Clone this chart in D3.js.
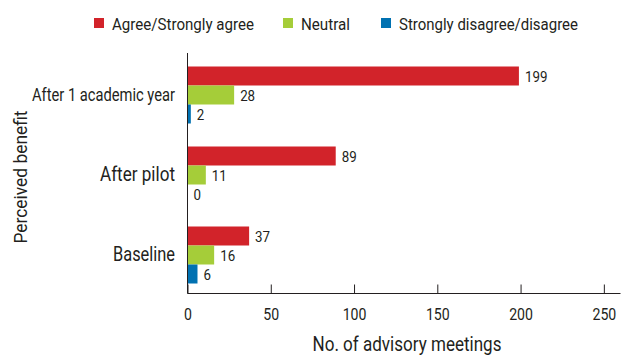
<!DOCTYPE html>
<html>
<head>
<meta charset="utf-8">
<script src="https://cdn.jsdelivr.net/npm/d3@7"></script>
<style>
  body { margin: 0; background: #fff; }
  svg text { font-family: Roboto, "Noto Sans", sans-serif; fill: #231f20; }
</style>
</head>
<body>
<div id="root"></div>
<script>
// data
const categories = ["After 1 academic year", "After pilot", "Baseline"]
const series = ["Agree/Strongly agree", "Neutral", "Strongly disagree/disagree"]
const agree = [199, 89, 37]
const neutral = [28, 11, 16]
const disagree = [2, 0, 6]
const xTicks = [0, 50, 100, 150, 200, 250]
const colors = ["#d2232a", "#a5cd39", "#0071b1"]

const w = 622, h = 355
const values = [agree, neutral, disagree]
const rows = categories.map((c, i) => ({cat: c, vals: series.map((s, j) => ({s: s, v: values[j][i], j: j}))}))

// squeeze text horizontally, the original uses a narrow face
function fitWidth(sel, width) {
    sel.attr("textLength", width).attr("lengthAdjust", "spacingAndGlyphs")
}
function condense(sel, k) {
    sel.each(function () {
        const len = this.getComputedTextLength()
        d3.select(this).attr("textLength", len * k).attr("lengthAdjust", "spacingAndGlyphs")
    })
}

const svg = d3.select("#root").append("svg")
    .attr("width", w)
    .attr("height", h)

//scales
const x = d3.scaleLinear()
    .domain([0, 260])
    .range([187.5, 620.5])

const y = d3.scaleBand()
    .domain(categories)
    .range([55, 295])
    .paddingInner(0.2875)
    .paddingOuter(0.14375)

const ySub = d3.scaleBand()
    .domain(series)
    .range([0, y.bandwidth()])

// legend
const legendX = [94, 283, 381]
const legendW = [142, 49, 179]
const legend = svg.append("g").classed("legend", true)
series.forEach((s, i) => {
    legend.append("rect")
        .attr("x", legendX[i]).attr("y", 18)
        .attr("width", 10).attr("height", 10)
        .attr("fill", colors[i])
    legend.append("text")
        .attr("x", legendX[i] + 18).attr("y", 30)
        .attr("font-size", 17)
        .text(s)
        .call(fitWidth, legendW[i])
})

// bars
const groups = svg.selectAll("g.group").data(rows).enter().append("g")
    .classed("group", true)
    .attr("transform", d => `translate(0,${y(d.cat)})`)

groups.selectAll("rect").data(d => d.vals).enter().append("rect")
    .attr("x", x(0))
    .attr("y", d => ySub(d.s))
    .attr("width", d => x(d.v) - x(0))
    .attr("height", ySub.bandwidth())
    .attr("fill", d => colors[d.j])

groups.selectAll("text.val").data(d => d.vals).enter().append("text")
    .classed("val", true)
    .attr("x", d => x(d.v) + 6)
    .attr("y", d => ySub(d.s) + ySub.bandwidth() / 2 + 5.5)
    .attr("font-size", 15.5)
    .text(d => d.v)
    .call(condense, 0.86)

// category labels
const catSize = [18, 21, 19.5]
const catW = [143, 75, 62]
svg.selectAll("text.cat").data(categories).enter().append("text")
    .classed("cat", true)
    .attr("x", 175)
    .attr("y", (d, i) => y(d) + y.bandwidth() / 2 + catSize[i] * 0.2 + 2)
    .attr("text-anchor", "end")
    .attr("font-size", (d, i) => catSize[i])
    .text(d => d)
    .each(function (d, i) { d3.select(this).call(fitWidth, catW[i]) })

// axes
const xAxis = d3.axisBottom(x).tickValues(xTicks).tickSize(-9).tickPadding(14)
const gx = svg.append("g").attr("transform", "translate(0,293.5)").call(xAxis)
gx.attr("font-family", null)
gx.select(".domain").attr("d", `M${x(0)},0H${x.range()[1]}`).attr("stroke", "#231f20")
gx.selectAll(".tick line").attr("stroke", "#231f20")
gx.selectAll(".tick text")
    .attr("font-size", 17)
    .attr("fill", "#231f20")
    .call(condense, 0.83)

svg.append("line")
    .attr("x1", x(0)).attr("x2", x(0))
    .attr("y1", 53).attr("y2", 293.5)
    .attr("stroke", "#231f20")

// axis titles
svg.append("text")
    .attr("x", 407).attr("y", 351)
    .attr("text-anchor", "middle")
    .attr("font-size", 19.5)
    .text("No. of advisory meetings")
    .call(fitWidth, 189)

svg.append("text")
    .attr("transform", "translate(27,177) rotate(-90)")
    .attr("text-anchor", "middle")
    .attr("font-size", 19)
    .text("Perceived benefit")
    .call(fitWidth, 133)
</script>
</body>
</html>
